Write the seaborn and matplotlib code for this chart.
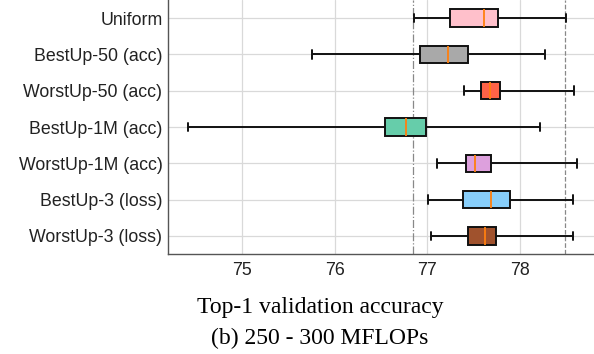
import pandas as pd
import numpy as np
import matplotlib
matplotlib.use('Agg')
import matplotlib.pyplot as plt
import seaborn as sns

# five-number summaries: min, q1, median, q3, max
methods = ['Uniform', 'BestUp-50 (acc)', 'WorstUp-50 (acc)', 'BestUp-1M (acc)',
           'WorstUp-1M (acc)', 'BestUp-3 (loss)', 'WorstUp-3 (loss)']
uniform = [76.86, 77.24, 77.61, 77.76, 78.50]
bestup_50 = [75.76, 76.92, 77.22, 77.44, 78.27]
worstup_50 = [77.40, 77.58, 77.68, 77.78, 78.58]
bestup_1m = [74.42, 76.54, 76.77, 76.99, 78.22]
worstup_1m = [77.10, 77.42, 77.52, 77.69, 78.62]
bestup_3 = [77.01, 77.39, 77.69, 77.89, 78.57]
worstup_3 = [77.04, 77.44, 77.62, 77.74, 78.57]
colors = ['pink', 'darkgray', 'tomato', 'mediumaquamarine', 'plum', 'lightskyblue', 'sienna']

ref_low = 76.85   # dash-dot reference line
ref_high = 78.49  # dashed reference line

sns.set_theme(style='whitegrid')
plt.rcParams['font.family'] = ['Liberation Sans', 'DejaVu Sans']

# 构造长表
series = [uniform, bestup_50, worstup_50, bestup_1m, worstup_1m, bestup_3, worstup_3]
df = pd.DataFrame({
    'method': np.repeat(methods, 5),
    'acc': np.concatenate(series),
})

fig = plt.figure(figsize=(5.94, 3.54), dpi=100)
ax = fig.add_axes([168 / 594, 100 / 354, 1 - 168 / 594, 254 / 354])

sns.boxplot(data=df, x='acc', y='method', hue='method', order=methods,
            palette=colors, saturation=1, whis=(0, 100), width=0.48,
            linecolor='#111111', linewidth=1.4, legend=False, ax=ax,
            medianprops={'color': '#ff7f0e', 'linewidth': 1.3})

ax.axvline(ref_low, color='#888888', linestyle='-.', linewidth=0.9, zorder=1)
ax.axvline(ref_high, color='#888888', linestyle='--', linewidth=0.9, zorder=1)

ax.set_xlim(74.2, 78.8)
ax.set_xticks([75, 76, 77, 78])
ax.set_xlabel('')
ax.set_ylabel('')
ax.grid(True, axis='both', color='#d9d9d9', linewidth=0.9)
ax.tick_params(labelsize=12.8, colors='#222222', length=0)
ax.tick_params(axis='y', pad=4)
ax.tick_params(axis='x', pad=6)
for side in ['top', 'right']:
    ax.spines[side].set_visible(False)
for side in ['left', 'bottom']:
    ax.spines[side].set_color('#555555')
    ax.spines[side].set_linewidth(1.0)

fig.text(320 / 594, 1 - 307 / 354, 'Top-1 validation accuracy', ha='center', va='center',
         fontsize=17, family=['Liberation Serif', 'DejaVu Serif'], color='black')
fig.text(320 / 594, 1 - 338 / 354, '(b) 250 - 300 MFLOPs', ha='center', va='center',
         fontsize=17, family=['Liberation Serif', 'DejaVu Serif'], color='black')

fig.savefig('out.png', dpi=100)
